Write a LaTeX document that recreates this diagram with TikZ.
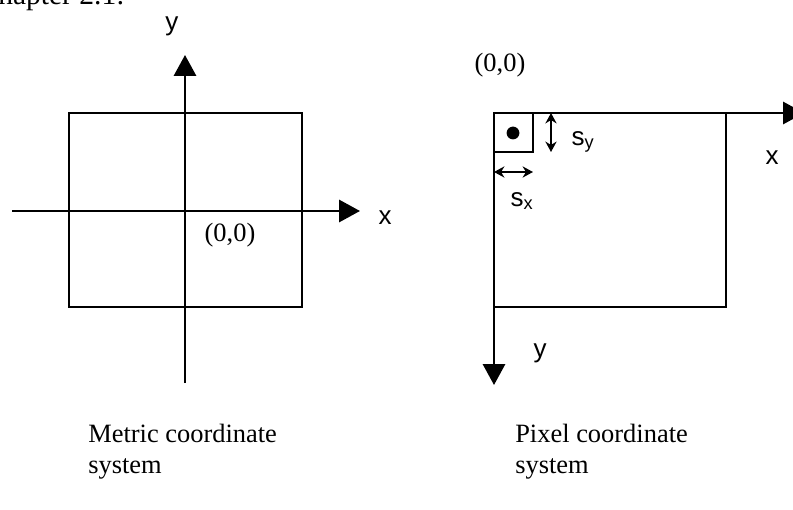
\documentclass[tikz,border=0pt]{standalone}
\usepackage{fontspec}
\setmainfont{Liberation Serif}
\newfontfamily\axfont{Liberation Sans}
\usetikzlibrary{arrows.meta}

\tikzset{
  axisarrow/.style={line width=1.8pt, -{Triangle[length=0.52cm,width=0.55cm]}},
  boxline/.style={line width=1.7pt},
  dimarrow/.style={line width=1.4pt, {Stealth[length=0.26cm,width=0.28cm]}-{Stealth[length=0.26cm,width=0.28cm]}},
  serif/.style={font=\fontsize{18.8}{22}\selectfont},
  axlabel/.style={font=\axfont\fontsize{18.5}{20}\selectfont},
}

\begin{document}
\begin{tikzpicture}[x=0.025cm, y=-0.025cm]
\useasboundingbox (0,0) rectangle (793,510);
\clip (0,0) rectangle (793,510);

% Text cut off at the top of the page
\node[font=\fontsize{21}{24}\selectfont, anchor=base west, inner sep=0] (chap) at (-2,5) {hapter 2.1:};

% Metric coordinate system
\draw[boxline] (69,113) rectangle (302,307);
\coordinate (mxs) at (12,211);
\coordinate (mxe) at (360,211);
\coordinate (mys) at (185,383);
\coordinate (mye) at (185,55);
\draw[axisarrow] (mxs) -- (mxe);
\draw[axisarrow] (mys) -- (mye);
\node[axlabel] (mxlab) at (385,218) {x};
\node[axlabel] (mylab) at (172,26) {y};
\node[serif] (morigin) at (230,235) {(0,0)};

% Pixel coordinate system
\coordinate (po) at (494,113);
\coordinate (pxe) at (804,113);
\coordinate (pye) at (494,385);
\draw[boxline] (po) rectangle (726,307);
\draw[axisarrow] (po) -- (pxe);
\draw[axisarrow] (po) -- (pye);
\node[axlabel] (pxlab) at (772,158) {x};
\node[axlabel] (pylab) at (540,353) {y};
\node[serif] (porigin) at (500,65) {(0,0)};

% One pixel and its size
\draw[line width=1.4pt] (po) rectangle (533,152);
\node[circle, fill, inner sep=0, minimum size=0.32cm] (pix) at (513,133) {};
\coordinate (sya) at (551,113);
\coordinate (syb) at (551,152);
\coordinate (sxa) at (494,172);
\coordinate (sxb) at (533,172);
\draw[dimarrow] (sya) -- (syb);
\draw[dimarrow] (sxa) -- (sxb);
\node[axlabel] (sylab) at (583,142) {s\textsubscript{y}};
\node[axlabel] (sxlab) at (522,201) {s\textsubscript{x}};

% Captions
\node[serif, anchor=base west, align=left, inner sep=0] (mcap) at (88,473) {Metric coordinate\\system};
\node[serif, anchor=base west, align=left, inner sep=0] (pcap) at (515,473) {Pixel coordinate\\system};
\end{tikzpicture}
\end{document}
